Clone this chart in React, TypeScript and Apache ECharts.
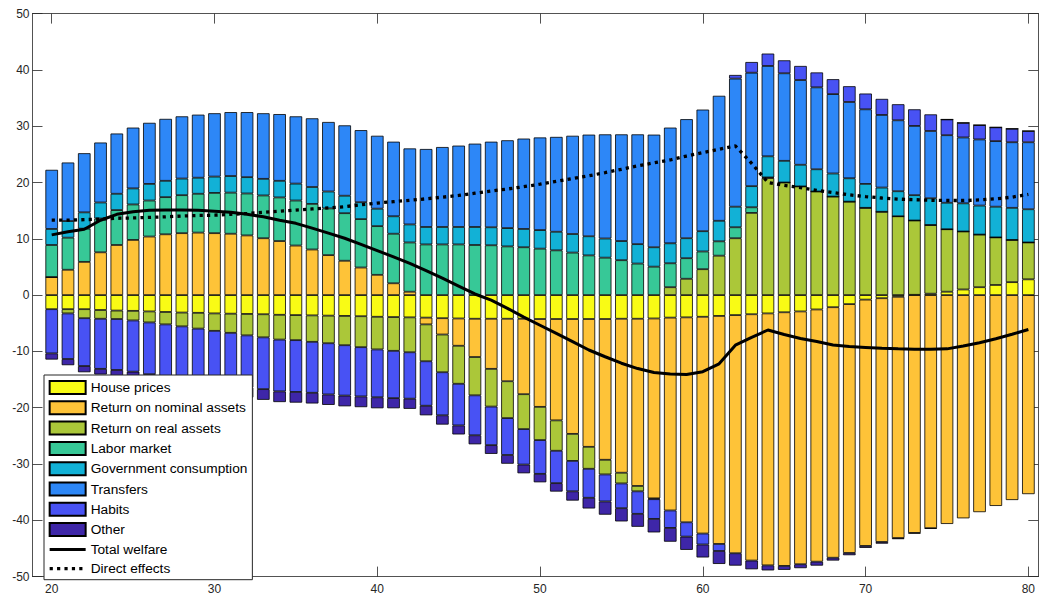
import React, { useEffect, useRef } from "react";
import * as echarts from "echarts";

const ages = [20,21,22,23,24,25,26,27,28,29,30,31,32,33,34,35,36,37,38,39,40,41,42,43,44,45,46,47,48,49,50,51,52,53,54,55,56,57,58,59,60,61,62,63,64,65,66,67,68,69,70,71,72,73,74,75,76,77,78,79,80];
const xTicks = [20, 30, 40, 50, 60, 70, 80];

const housePrices = [-2.5,-2.5,-2.5,-2.65,-2.75,-2.8,-2.9,-3.0,-3.1,-3.15,-3.25,-3.3,-3.35,-3.4,-3.5,-3.55,-3.6,-3.65,-3.7,-3.75,-3.85,-3.9,-3.95,-4.0,-4.1,-4.15,-4.2,-4.2,-4.2,-4.2,-4.25,-4.25,-4.25,-4.25,-4.25,-4.2,-4.2,-4.15,-4.0,-3.95,-3.85,-3.7,-3.55,-3.4,-3.25,-3.05,-2.9,-2.55,-2.15,-1.6,-0.8,-0.55,-0.3,0.05,0.25,0.6,1.0,1.4,1.8,2.3,2.8];
const nominalAssets = [3.2,4.5,5.9,7.6,8.9,9.8,10.4,10.8,11.0,11.1,11.0,10.9,10.6,10.1,9.6,8.8,8.1,7.1,6.1,4.9,3.6,2.1,0.6,-1.2,-2.9,-4.85,-6.8,-8.9,-11.1,-13.4,-15.6,-18.0,-20.4,-22.7,-25.0,-27.35,-29.7,-31.95,-34.25,-36.4,-38.5,-40.5,-42.3,-43.75,-44.75,-45.05,-44.9,-44.8,-44.5,-44.2,-43.75,-43.3,-42.85,-42.25,-41.4,-40.65,-39.65,-38.55,-37.45,-36.4,-35.35];
const realAssets = [0,-0.75,-1.6,-1.55,-1.5,-1.7,-1.95,-2.2,-2.45,-2.8,-3.1,-3.4,-3.8,-4.1,-4.4,-4.45,-4.7,-4.9,-5.2,-5.5,-5.8,-6.0,-6.2,-6.55,-6.7,-6.75,-6.8,-6.7,-6.55,-6.2,-5.9,-5.4,-4.8,-3.9,-2.6,-1.9,-0.95,-0.15,1.4,2.9,4.6,7.0,10.1,14.6,20.8,20.0,19.3,18.4,17.5,16.6,15.5,14.8,14.0,13.2,12.2,11.1,10.3,9.35,8.45,7.5,6.55];
const laborMarket = [5.7,5.7,5.9,6.0,6.2,6.3,6.4,6.6,6.75,6.9,7.15,7.3,7.45,7.6,7.75,8.0,8.1,8.3,8.45,8.6,8.65,8.8,8.75,9.0,9.0,9.0,8.9,8.85,8.65,8.5,8.25,7.95,7.55,7.05,6.65,6.2,5.6,5.05,4.25,3.65,3.15,2.55,1.95,1.0,0.1,0,0,0,0,0,0,0,0,0,0,0,0,0,0,0,0];
const govConsumption = [2.85,2.95,2.9,2.85,2.9,2.85,2.95,2.9,2.95,2.85,2.9,2.95,2.9,2.95,2.95,3.0,3.0,3.0,3.1,3.0,3.1,3.1,3.2,3.1,3.1,3.1,3.2,3.2,3.25,3.25,3.3,3.3,3.3,3.4,3.4,3.4,3.45,3.45,3.55,3.55,3.6,3.65,3.65,3.75,3.75,3.85,3.85,3.95,4.1,4.15,4.25,4.3,4.45,4.5,4.75,4.7,5.0,5.15,5.45,5.7,5.9];
const transfers = [10.5,10.4,10.5,10.65,10.7,10.8,10.85,11.0,11.05,11.2,11.25,11.35,11.55,11.65,11.85,11.95,12.2,12.35,12.5,12.8,12.95,13.25,13.5,13.85,14.2,14.45,14.8,15.2,15.6,16.05,16.45,16.85,17.45,18.05,18.5,18.95,19.5,20.0,20.55,21.15,21.6,22.2,22.75,20.15,16.05,15.55,15.05,14.55,14.1,13.55,13.25,12.9,12.6,12.3,11.95,12.0,11.7,11.75,11.65,11.65,11.9];
const habits = [-7.85,-8.1,-8.5,-8.9,-9.05,-9.1,-9.2,-9.2,-9.25,-9.3,-9.3,-9.3,-9.25,-9.2,-9.2,-9.2,-9.05,-9.1,-8.95,-8.75,-8.5,-8.4,-8.25,-7.9,-7.65,-7.4,-7.1,-6.85,-6.55,-6.3,-6.0,-5.75,-5.4,-5.15,-4.8,-4.4,-4.0,-3.5,-3.1,-2.55,-1.95,-1.25,0.65,1.9,2.2,2.3,2.5,2.65,2.65,2.8,2.8,2.85,2.85,2.95,2.95,2.8,2.6,2.55,2.45,2.4,2.0];
const other = [-1.1,-1.1,-1.1,-1.0,-1.1,-1.2,-1.25,-1.3,-1.4,-1.5,-1.6,-1.7,-1.8,-1.9,-1.9,-1.9,-1.9,-1.85,-1.9,-1.9,-1.95,-1.8,-1.8,-1.7,-1.65,-1.6,-1.6,-1.55,-1.55,-1.55,-1.5,-1.5,-1.65,-1.9,-2.35,-2.35,-2.3,-2.4,-2.45,-2.35,-2.3,-2.3,-2.2,-1.55,-0.9,-0.7,-0.7,-0.7,-0.5,-0.4,-0.35,-0.3,-0.2,-0.1,-0.1,0,0,0,0,0,0];
const totalWelfare = [10.7,11.25,11.7,13.3,14.35,14.8,15.05,15.1,15.1,15.05,14.9,14.7,14.35,13.9,13.3,12.75,11.9,11.0,10.1,9.0,7.9,6.8,5.65,4.35,3.0,1.6,0.2,-0.9,-2.35,-3.9,-5.35,-6.8,-8.25,-9.75,-10.95,-12.1,-13.05,-13.75,-14.0,-14.1,-13.6,-12.2,-8.9,-7.5,-6.2,-7.0,-7.7,-8.25,-8.85,-9.15,-9.3,-9.45,-9.55,-9.6,-9.6,-9.55,-9.05,-8.45,-7.75,-6.95,-6.1];
const directEffects = [13.3,13.3,13.4,13.5,13.65,13.7,13.8,13.9,14.05,14.15,14.2,14.35,14.5,14.7,14.9,15.1,15.3,15.5,15.7,16.05,16.35,16.6,16.85,17.1,17.4,17.7,18.1,18.5,18.85,19.25,19.7,20.2,20.7,21.2,21.75,22.35,22.95,23.5,24.0,24.7,25.3,25.9,26.5,23.4,20.0,19.5,19.1,18.6,18.2,17.8,17.5,17.25,17.05,16.95,16.85,16.8,16.8,16.9,17.1,17.4,17.9];

const barSeriesDefs = [
  { name: "House prices", values: housePrices, color: "#F9FB15" },
  { name: "Return on nominal assets", values: nominalAssets, color: "#FEC338" },
  { name: "Return on real assets", values: realAssets, color: "#ABC739" },
  { name: "Labor market", values: laborMarket, color: "#37C897" },
  { name: "Government consumption", values: govConsumption, color: "#12B1D6" },
  { name: "Transfers", values: transfers, color: "#2D87F7" },
  { name: "Habits", values: habits, color: "#4852F4" },
  { name: "Other", values: other, color: "#3E26A8" },
];

const FONT = "'Liberation Sans', Arial, Helvetica, sans-serif";
const AXIS_COLOR = "#262626";
const SOLID_STYLE = { color: "#000", width: 3 };
const DOTTED_STYLE = { color: "#000", width: 3.3, type: [3.2, 4.2], cap: "butt" };

export default function App() {
  const ref = useRef<HTMLDivElement>(null);

  useEffect(() => {
    if (!ref.current) return;
    const chart = echarts.init(ref.current, null, { renderer: "svg" });

    const W = 1039;
    const gridLeft = 32.5;
    const gridRight = 0.7;
    const gridTop = 13.6;
    const gridBottom = 20.4;
    const xMin = 18.82;
    const xMax = 80.61;
    const pxPerUnit = (W - gridLeft - gridRight) / (xMax - xMin);
    // hidden category grid: bands centred on integer ages, spanning 19.5 .. 80.5
    const catLeft = gridLeft + (ages[0] - 0.5 - xMin) * pxPerUnit;
    const catRight = gridRight + (xMax - (ages[ages.length - 1] + 0.5)) * pxPerUnit;

    const bars = barSeriesDefs.map((d) => ({
      name: d.name,
      type: "bar",
      stack: "welfare",
      stackStrategy: "samesign",
      xAxisIndex: 2,
      yAxisIndex: 2,
      barWidth: 12.6,
      data: d.values,
      itemStyle: { color: d.color, borderColor: "#000", borderWidth: 0.8 },
      emphasis: { disabled: true },
      z: 2,
    }));

    const lines = [
      {
        name: "Total welfare",
        type: "line",
        xAxisIndex: 2,
        yAxisIndex: 2,
        data: totalWelfare,
        symbol: "none",
        color: "#000",
        lineStyle: SOLID_STYLE,
        emphasis: { disabled: true },
        z: 5,
      },
      {
        name: "Direct effects",
        type: "line",
        xAxisIndex: 2,
        yAxisIndex: 2,
        data: directEffects,
        symbol: "none",
        color: "#000",
        lineStyle: DOTTED_STYLE,
        emphasis: { disabled: true },
        z: 5,
      },
    ];

    const xLabelFormatter = (v: number) =>
      Math.abs(v - Math.round(v / 10) * 10) < 1e-6 ? String(v) : "";

    const frameLine = { show: true, onZero: false, lineStyle: { color: AXIS_COLOR, width: 0.8 } };
    const frameTick = { show: true, inside: true, length: 10, lineStyle: { color: AXIS_COLOR, width: 0.8 } };

    const option: any = {
      animation: false,
      backgroundColor: "#fff",
      textStyle: { fontFamily: FONT },
      grid: [
        { left: gridLeft, right: gridRight, top: gridTop, bottom: gridBottom, containLabel: false },
        { left: catLeft, right: catRight, top: gridTop, bottom: gridBottom, containLabel: false },
      ],
      legend: {
        orient: "vertical",
        left: 44,
        top: 375,
        itemWidth: 36,
        itemHeight: 13,
        itemGap: 5.3,
        padding: [5, 5, 4, 4],
        backgroundColor: "#fff",
        borderColor: AXIS_COLOR,
        borderWidth: 1,
        borderRadius: 0,
        selectedMode: false,
        textStyle: { fontSize: 13.7, color: "#000", fontFamily: FONT },
        data: [
          ...barSeriesDefs.map((d) => ({ name: d.name, icon: "rect" })),
          { name: "Total welfare", itemStyle: { opacity: 0 }, lineStyle: SOLID_STYLE },
          { name: "Direct effects", itemStyle: { opacity: 0 }, lineStyle: DOTTED_STYLE },
        ],
        z: 10,
      },
      xAxis: [
        {
          type: "value",
          gridIndex: 0,
          min: xMin,
          max: xMax,
          position: "bottom",
          axisLine: frameLine,
          axisTick: { ...frameTick, customValues: xTicks },
          axisLabel: { show: true, margin: 6, fontSize: 12, color: AXIS_COLOR, fontFamily: FONT, customValues: xTicks, formatter: xLabelFormatter },
          splitLine: { show: false },
        },
        {
          type: "value",
          gridIndex: 0,
          min: xMin,
          max: xMax,
          position: "top",
          axisLine: frameLine,
          axisTick: { ...frameTick, customValues: xTicks },
          axisLabel: { show: false },
          splitLine: { show: false },
        },
        {
          type: "category",
          gridIndex: 1,
          data: ages.map(String),
          boundaryGap: true,
          show: false,
        },
      ],
      yAxis: [
        {
          type: "value",
          gridIndex: 0,
          min: -50,
          max: 50,
          interval: 10,
          position: "left",
          axisLine: frameLine,
          axisTick: frameTick,
          axisLabel: { show: true, margin: 3, fontSize: 12, color: AXIS_COLOR, fontFamily: FONT },
          splitLine: { show: false },
        },
        {
          type: "value",
          gridIndex: 0,
          min: -50,
          max: 50,
          interval: 10,
          position: "right",
          axisLine: frameLine,
          axisTick: frameTick,
          axisLabel: { show: false },
          splitLine: { show: false },
        },
        {
          type: "value",
          gridIndex: 1,
          min: -50,
          max: 50,
          interval: 10,
          show: false,
          splitLine: { show: false },
        },
      ],
      series: [...bars, ...lines],
    };

    chart.setOption(option);
    return () => chart.dispose();
  }, []);

  return (
    <div
      ref={ref}
      style={{ position: "absolute", left: 0, top: 0, width: 1039, height: 597, background: "#fff" }}
    />
  );
}
